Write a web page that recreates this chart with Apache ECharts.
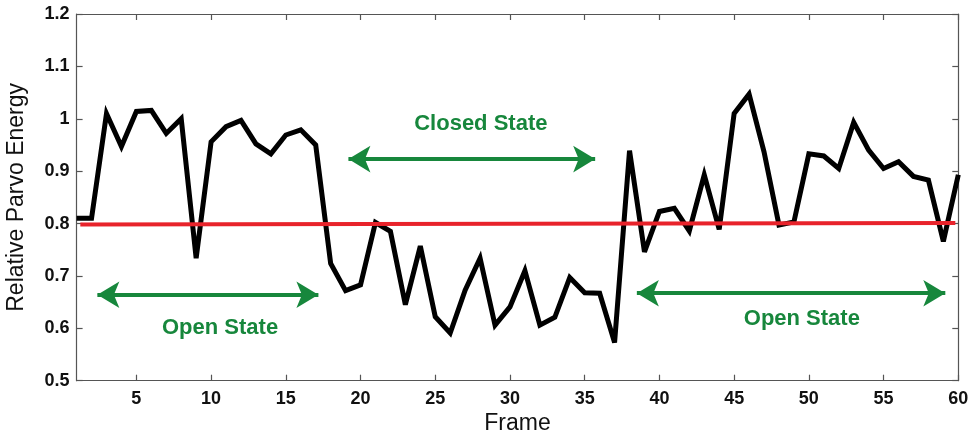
<!DOCTYPE html>
<html>
<head>
<meta charset="utf-8">
<script src="https://cdn.jsdelivr.net/npm/echarts@6/dist/echarts.min.js"></script>
<style>html,body{margin:0;padding:0;background:#fff}#c{width:975px;height:434px}</style>
</head>
<body>
<div id="c"></div>
<script>
var frames = [];
for (var i = 1; i <= 60; i++) frames.push(i);
var energy = [
  0.81, 0.81, 1.01, 0.947, 1.014, 1.016, 0.972, 1.0, 0.734, 0.956,
  0.985, 0.997, 0.952, 0.933, 0.969, 0.979, 0.95, 0.724, 0.672, 0.683,
  0.802, 0.785, 0.645, 0.757, 0.622, 0.591, 0.673, 0.734, 0.606, 0.641,
  0.71, 0.606, 0.621, 0.697, 0.668, 0.667, 0.573, 0.939, 0.746, 0.823,
  0.829, 0.786, 0.893, 0.789, 1.01, 1.047, 0.937, 0.797, 0.803, 0.933,
  0.929, 0.905, 0.993, 0.94, 0.905, 0.918, 0.89, 0.883, 0.766, 0.893
];
var thresholdLine = [[1.25, 0.798], [59.8, 0.801]];
var xTicks = [5, 10, 15, 20, 25, 30, 35, 40, 45, 50, 55, 60];
var yTicks = [0.5, 0.6, 0.7, 0.8, 0.9, 1.0, 1.1, 1.2];
var arrowSpans = [
  [[2.39, 0.664], [17.18, 0.664]],
  [[19.19, 0.923], [35.7, 0.923]],
  [[38.49, 0.667], [59.13, 0.667]]
];
var stateLabels = [
  ['Open State', 10.6, 0.601],
  ['Closed State', 28.05, 0.99],
  ['Open State', 49.53, 0.617]
];

var GREEN = '#17873c';
var FONT = '"Liberation Sans", Arial, Helvetica, sans-serif';
var chart = echarts.init(document.getElementById('c'), null, {renderer: 'canvas'});

var lineData = frames.map(function (f, i) { return [f, energy[i]]; });

function axisBase(extra) {
  return Object.assign({
    type: 'value', min: 1, max: 60,
    axisLine: {show: true, onZero: false, lineStyle: {color: '#555', width: 1.2}},
    axisTick: {show: true, inside: true, length: 6, customValues: xTicks, lineStyle: {color: '#555', width: 1.2}},
    splitLine: {show: false}
  }, extra);
}
function yBase(extra) {
  return Object.assign({
    type: 'value', min: 0.5, max: 1.2, interval: 0.1,
    axisLine: {show: true, onZero: false, lineStyle: {color: '#555', width: 1.2}},
    axisTick: {show: true, inside: true, length: 6, lineStyle: {color: '#555', width: 1.2}},
    splitLine: {show: false}
  }, extra);
}

var option = {
  animation: false,
  backgroundColor: '#fff',
  grid: {left: 76.6, right: 16.7, top: 14, bottom: 53.3, containLabel: false, outerBoundsMode: 'none'},
  xAxis: [
    axisBase({
      position: 'bottom',
      name: 'Frame', nameLocation: 'middle', nameGap: 28,
      nameTextStyle: {fontFamily: FONT, fontSize: 23, color: '#111'},
      axisLabel: {show: true, customValues: xTicks, margin: 9, fontFamily: FONT, fontWeight: 'bold', fontSize: 18, color: '#111'}
    }),
    axisBase({position: 'top', axisLabel: {show: false}})
  ],
  yAxis: [
    yBase({
      position: 'left',
      name: 'Relative Parvo Energy', nameLocation: 'middle', nameGap: 48,
      nameTextStyle: {fontFamily: FONT, fontSize: 23, color: '#111'},
      axisLabel: {show: true, margin: 7, fontFamily: FONT, fontWeight: 'bold', fontSize: 18, color: '#111',
        formatter: function (v) { var s = Math.round(v * 10) / 10; return s === 1 ? '1' : String(s); }}
    }),
    yBase({position: 'right', axisLabel: {show: false}})
  ],
  series: [
    {
      type: 'line', data: lineData, symbol: 'none', z: 3,
      lineStyle: {color: '#000', width: 5, join: 'miter', miterLimit: 4}
    },
    {
      type: 'line', data: thresholdLine, symbol: 'none', z: 4,
      lineStyle: {color: '#e8232b', width: 4}
    },
    {
      type: 'scatter', data: [], z: 5,
      markLine: {
        silent: true, symbol: ['arrow', 'arrow'], symbolSize: [20, 22],
        lineStyle: {color: GREEN, width: 4, type: 'solid', opacity: 1},
        itemStyle: {color: GREEN, opacity: 1},
        label: {show: false},
        data: arrowSpans.map(function (s) { return [{coord: s[0]}, {coord: s[1]}]; })
      }
    },
    {
      type: 'scatter', symbolSize: 0, z: 6,
      itemStyle: {opacity: 1, color: GREEN},
      data: stateLabels.map(function (l) { return {name: l[0], value: [l[1], l[2]]}; }),
      label: {show: true, position: 'inside', formatter: '{b}', opacity: 1, fontFamily: FONT, fontWeight: 'bold', fontSize: 22, color: GREEN}
    }
  ]
};
chart.setOption(option);
</script>
</body>
</html>
